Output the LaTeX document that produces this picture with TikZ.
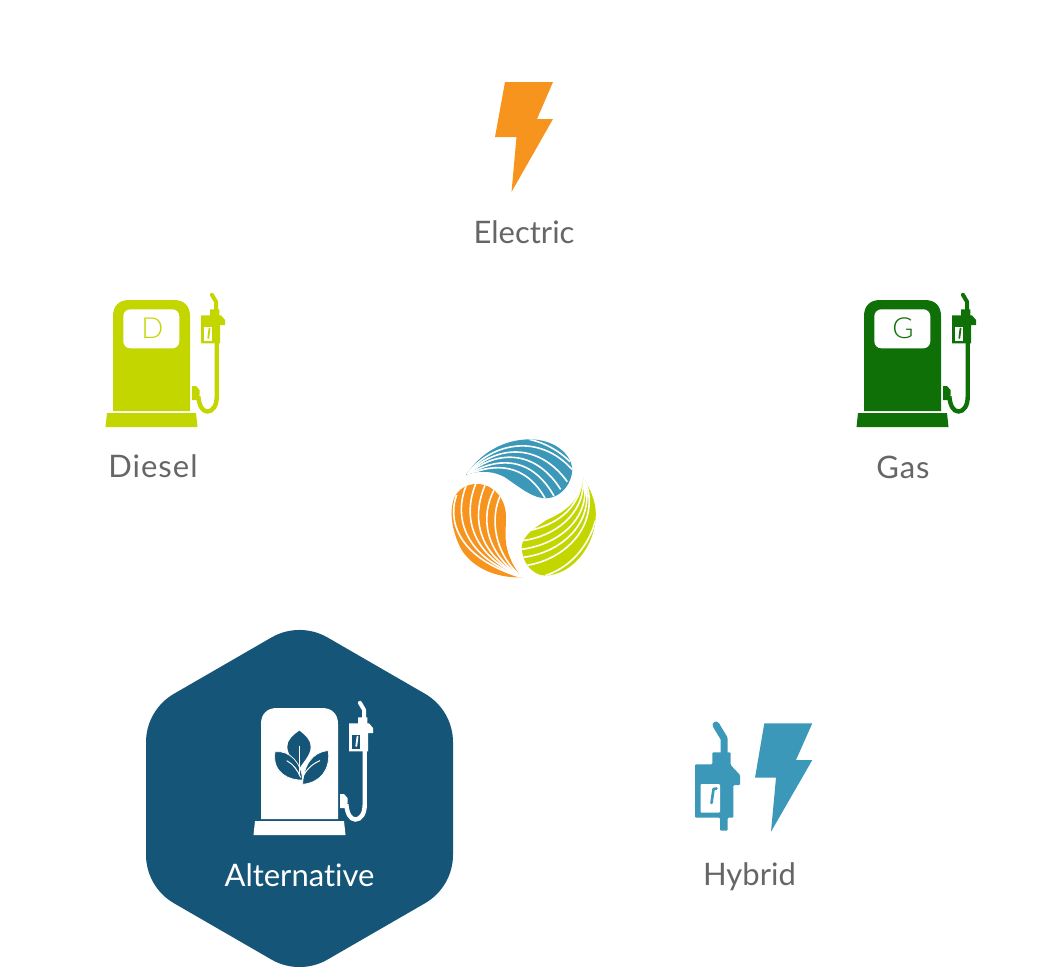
\documentclass[tikz,border=0pt]{standalone}
\usepackage{fontspec}
\setmainfont[Ligatures=NoCommon]{Lato}
\newfontfamily\lightface{Lato Light}
\definecolor{cOrange}{HTML}{F7941E}
\definecolor{cLime}{HTML}{C4D600}
\definecolor{cGreen}{HTML}{0F7008}
\definecolor{cBlue}{HTML}{3B98B8}
\definecolor{cNavy}{HTML}{155577}
\definecolor{cText}{HTML}{666666}
\tikzset{
  lab/.style={font=\fontsize{31}{36}\selectfont,text=cText,inner sep=0pt,anchor=base},
  letter/.style={font=\lightface\fontsize{29}{30}\selectfont,inner sep=0pt,anchor=base},
  stripe/.style={draw=white,line width=1.6pt},
  zoomed/.style={x=0.3333pt,y=-0.3333pt}
}
\newcommand{\fuelpump}[3]{%
\begin{scope}[shift={(#1)}]
  \fill[#2] (113,411) -- (113,316) .. controls (113,306) and (119,300) .. (129,300) -- (174,300) .. controls (184,300) and (190,306) .. (190,316) -- (190,411) -- cycle;
  \fill[#2] (107,413) -- (196,413) -- (197.5,427) -- (105.5,427) -- cycle;
  \draw[#2,line width=4pt,line cap=round,line join=round] (211.9,294.8) -- (216,301.7) -- (216,311);
  \fill[#2] (210,309.3) -- (219.3,309.3) -- (219.3,315.3) -- (221,315.3) -- (225,320) -- (225,325) -- (220,325) -- (220,343.3) -- (201,343.3) -- (201,315.3) -- (210,315.3) -- cycle;
  \fill[#3] (204.3,326.7) rectangle (212.3,341);
  \draw[#2,line width=1.8pt,line cap=round] (209.5,328.5) -- (208.3,338);
  \draw[#2,line width=4.4pt] (216.7,343) -- (216.7,397) .. controls (216.7,405) and (213,411.5) .. (207.5,411.5) .. controls (202,411.5) and (199,405) .. (198.3,396);
  \fill[#2] (192,386) -- (196,386) -- (199.5,390) -- (199.5,395) -- (197,398) -- (197,400) -- (192,400) -- cycle;
\end{scope}}
\begin{document}
\begin{tikzpicture}[x=1pt,y=-1pt]
\useasboundingbox (0,0) rectangle (1056,966);
\clip (0,0) rectangle (1056,966);
% hexagon highlight
\fill[cNavy] (271.5,637.45) .. controls (288.8,627.45) and (310.2,627.45) .. (327.5,637.45)
  -- (425,693.75) .. controls (442.3,703.75) and (453,722.2) .. (453,742.2)
  -- (453,854.8) .. controls (453,874.8) and (442.3,893.25) .. (425,903.25)
  -- (327.5,959.55) .. controls (310.2,969.55) and (288.8,969.55) .. (271.5,959.55)
  -- (174,903.25) .. controls (156.7,893.25) and (146,874.8) .. (146,854.8)
  -- (146,742.2) .. controls (146,722.2) and (156.7,703.75) .. (174,693.75) -- cycle;
% electric bolt
\fill[cOrange] (505,82) -- (553,82) -- (537,119) -- (553,119) -- (511.5,192) -- (516.5,137) -- (495,137) -- cycle;
\node[lab] (electric) at (524,243) {Electric};
% diesel
\fuelpump{0,0}{cLime}{white}
\fill[white,rounded corners=7pt] (123.3,309.3) rectangle (179.3,348.3);
\node[letter,text=cLime] (dletter) at (152.5,338) {D};
\node[lab] (diesel) at (153,477) {\addfontfeature{LetterSpace=3.2}Diesel};
% gas
\fuelpump{751,0}{cGreen}{white}
\fill[white,rounded corners=7pt] (874.3,309.3) rectangle (930.3,348.3);
\node[letter,text=cGreen] (gletter) at (903,338) {G};
\node[lab] (gas) at (903,478) {\addfontfeature{LetterSpace=3}Gas};
% logo: blue leaf
\begin{scope}[shift={(430,420)},zoomed]
  \fill[cBlue] (108,165) .. controls (150,100) and (220,58) .. (300,58) .. controls (370,58) and (425,100) .. (427,150) .. controls (425,190) and (395,232) .. (350,235) .. controls (310,235) and (280,210) .. (225,172) .. controls (195,155) and (150,148) .. (108,165) -- cycle;
  \clip (108,165) .. controls (150,100) and (220,58) .. (300,58) .. controls (370,58) and (425,100) .. (427,150) .. controls (425,190) and (395,232) .. (350,235) .. controls (310,235) and (280,210) .. (225,172) .. controls (195,155) and (150,148) .. (108,165) -- cycle;
  \draw[stripe] (298,58) .. controls (350,70) and (390,95) .. (420,125);
  \draw[stripe] (112,160) .. controls (190,65) and (330,40) .. (428,150);
  \draw[stripe] (112,163) .. controls (190,80) and (320,60) .. (412,185);
  \draw[stripe] (112,164) .. controls (190,95) and (310,80) .. (392,208);
  \draw[stripe] (112,165) .. controls (190,115) and (300,100) .. (372,228);
  \draw[stripe] (125,160) .. controls (190,133) and (285,125) .. (347,238);
\end{scope}
% logo: lime leaf
\begin{scope}[shift={(430,420)},zoomed]
  \fill[cLime] (460,175) .. controls (490,220) and (500,260) .. (497,295) .. controls (490,390) and (420,465) .. (345,467) .. controls (305,465) and (275,425) .. (275,380) .. controls (278,345) and (320,320) .. (350,300) .. controls (395,280) and (450,250) .. (460,175) -- cycle;
  \clip (460,175) .. controls (490,220) and (500,260) .. (497,295) .. controls (490,390) and (420,465) .. (345,467) .. controls (305,465) and (275,425) .. (275,380) .. controls (278,345) and (320,320) .. (350,300) .. controls (395,280) and (450,250) .. (460,175) -- cycle;
  \draw[stripe] (298,332) .. controls (370,315) and (445,275) .. (458,178);
  \draw[stripe] (278,362) .. controls (370,350) and (465,285) .. (460,178);
  \draw[stripe] (274,388) .. controls (380,375) and (485,300) .. (462,178);
  \draw[stripe] (278,412) .. controls (390,400) and (500,310) .. (464,178);
  \draw[stripe] (290,436) .. controls (400,420) and (515,320) .. (466,178);
  \draw[stripe] (345,467) .. controls (400,450) and (470,400) .. (497,300);
\end{scope}
% logo: orange leaf
\begin{scope}[shift={(430,420)},zoomed]
  \fill[cOrange] (277,472) .. controls (200,475) and (130,445) .. (95,390) .. controls (70,345) and (55,280) .. (72,235) .. controls (85,205) and (115,190) .. (145,192) .. controls (195,195) and (228,240) .. (228,290) .. controls (228,330) and (222,360) .. (235,400) .. controls (245,430) and (260,455) .. (277,472) -- cycle;
  \clip (277,472) .. controls (200,475) and (130,445) .. (95,390) .. controls (70,345) and (55,280) .. (72,235) .. controls (85,205) and (115,190) .. (145,192) .. controls (195,195) and (228,240) .. (228,290) .. controls (228,330) and (222,360) .. (235,400) .. controls (245,430) and (260,455) .. (277,472) -- cycle;
  \draw[stripe] (212,225) .. controls (180,290) and (190,400) .. (274,470);
  \draw[stripe] (192,210) .. controls (150,290) and (165,400) .. (274,470);
  \draw[stripe] (165,196) .. controls (125,290) and (140,400) .. (274,470);
  \draw[stripe] (138,190) .. controls (100,280) and (115,400) .. (274,470);
  \draw[stripe] (108,198) .. controls (75,280) and (90,405) .. (274,471);
  \draw[stripe] (80,225) .. controls (55,290) and (70,410) .. (274,472);
\end{scope}
% alternative
\fuelpump{148,408}{white}{cNavy}
\begin{scope}[shift={(240,690)},zoomed]
  \fill[cNavy] (178,122) .. controls (195,135) and (212,150) .. (212,170) .. controls (212,195) and (190,215) .. (178,235) .. controls (166,215) and (142,195) .. (142,170) .. controls (142,150) and (160,135) .. (178,122) -- cycle;
  \filldraw[fill=cNavy,draw=white,line width=0.7pt] (105,185) .. controls (150,180) and (185,220) .. (188,270) .. controls (150,272) and (95,250) .. (105,185) -- cycle;
  \filldraw[fill=cNavy,draw=white,line width=0.7pt] (265,182) .. controls (272,240) and (240,278) .. (188,283) .. controls (190,230) and (215,185) .. (265,182) -- cycle;
  \draw[white,line width=1pt] (178,168) -- (178,258);
  \draw[white,line width=1pt] (140,212) .. controls (160,222) and (172,240) .. (182,262);
  \draw[white,line width=1pt] (240,212) .. controls (215,222) and (198,240) .. (186,265);
\end{scope}
\node[lab,text=white] (alternative) at (299.5,886) {Alternative};
% hybrid
\draw[cBlue,line width=7pt,line cap=round,line join=round] (716,725) -- (724,738.3) -- (724,755);
\fill[cBlue,rounded corners=1pt] (712.3,752.3) -- (730.7,752.3) -- (730.7,765) -- (740,775) -- (740,785) -- (733.3,785) -- (733.3,817.7) -- (727.7,817.7) -- (727.7,830.7) -- (720,830.7) -- (720,817.7) -- (695,817.7) -- (695,764.3) -- (712.3,764.3) -- cycle;
\fill[white,rounded corners=1pt] (700.7,784) rectangle (720,812.7);
\draw[cBlue,line width=2.6pt,line cap=round,line join=round] (716.5,788.5) -- (713.5,789) -- (711.5,803);
\fill[cBlue] (764.3,723.3) -- (812.3,723.3) -- (796,760) -- (812.3,760) -- (771,831.7) -- (776,777.7) -- (755,777.7) -- cycle;
\node[lab] (hybrid) at (749.5,885) {Hybrid};
\end{tikzpicture}
\end{document}
